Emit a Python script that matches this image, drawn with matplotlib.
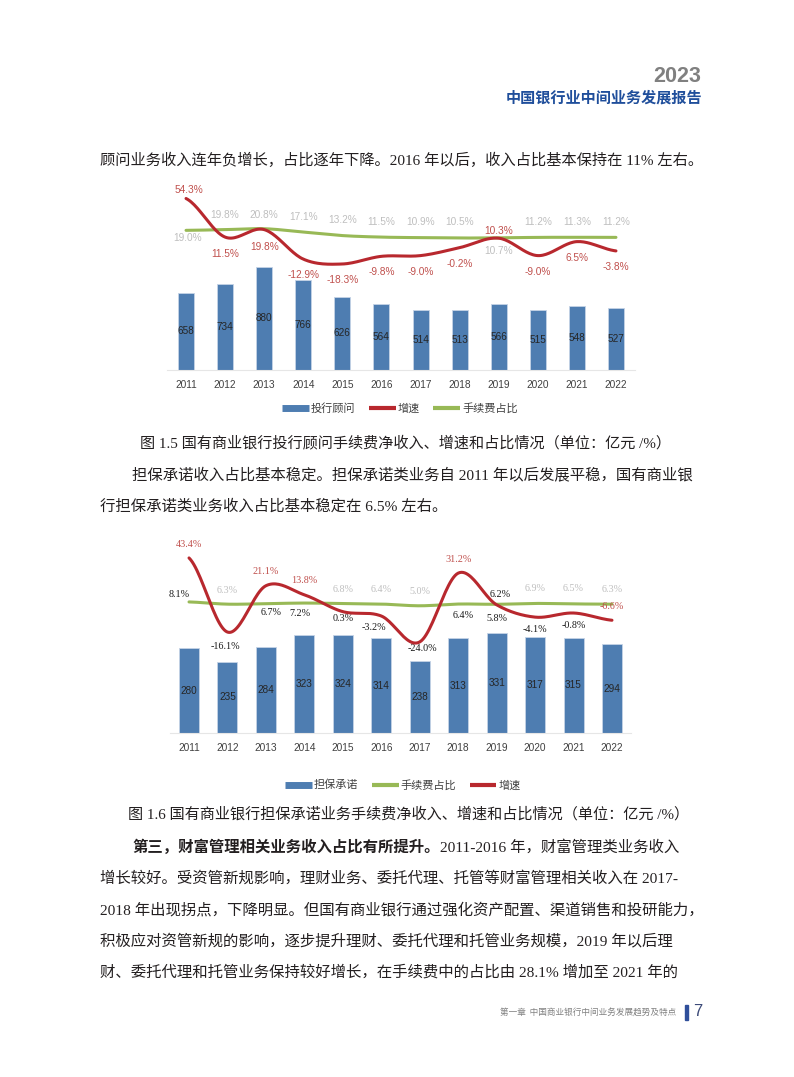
import numpy as np
import matplotlib
matplotlib.use("Agg")
import matplotlib.pyplot as plt
from matplotlib.lines import Line2D
from matplotlib.patches import Rectangle

# --- DATA ---
years = ['2011', '2012', '2013', '2014', '2015', '2016',
         '2017', '2018', '2019', '2020', '2021', '2022']

# 图 1.5 投行顾问
ib_income = [658, 734, 880, 766, 626, 564, 514, 513, 566, 515, 548, 527]
ib_growth = [54.3, 11.5, 19.8, -12.9, -18.3, -9.8, -9.0, -0.2, 10.3, -9.0, 6.5, -3.8]
ib_share = [19.0, 19.8, 20.8, 17.1, 13.2, 11.5, 10.9, 10.5, 10.7, 11.2, 11.3, 11.2]

# 图 1.6 担保承诺
gu_income = [280, 235, 284, 323, 324, 314, 238, 313, 331, 317, 315, 294]
gu_growth = [43.4, -16.1, 21.1, 13.8, 0.3, -3.2, -24.0, 31.2, 5.8, -4.1, -0.8, -6.6]
gu_share = [8.1, 6.3, 6.7, 7.2, 6.8, 6.4, 5.0, 6.4, 6.2, 6.9, 6.5, 6.3]
# ------------

W, H = 794, 1077
BLUE = '#4e7db1'
RED = '#b8282e'
GREEN = '#98b956'
RED_TXT = '#c0504d'
GRAY_TXT = '#bfbfbf'
DARK = '#262626'

plt.rcParams['font.family'] = ['Liberation Sans', 'Noto Sans CJK SC']
BODY = ['Liberation Serif', 'Noto Sans CJK SC']
CJK = ['Noto Sans CJK SC', 'DejaVu Sans']

fig = plt.figure(figsize=(W / 100, H / 100), dpi=100)


def px_axes(left, top, right, bottom):
    return fig.add_axes([left / W, 1 - bottom / H, (right - left) / W, (bottom - top) / H])


def ptext(x, y, s, size, ha='left', **kw):
    return fig.text(x / W, 1 - y / H, s, fontsize=size, ha=ha, va='center', **kw)


def smooth(vals, n=24):
    # catmull-rom, close to excel's smoothed line
    p = np.asarray(vals, float)
    P = np.concatenate([[p[0]], p, [p[-1]]])
    xs, ys = [], []
    for i in range(len(p) - 1):
        p0, p1, p2, p3 = P[i], P[i + 1], P[i + 2], P[i + 3]
        t = np.linspace(0, 1, n, endpoint=(i == len(p) - 2))
        y = 0.5 * (2 * p1 + (-p0 + p2) * t + (2 * p0 - 5 * p1 + 4 * p2 - p3) * t ** 2
                   + (-p0 + 3 * p1 - 3 * p2 + p3) * t ** 3)
        xs.append(i + t)
        ys.append(y)
    return np.concatenate(xs), np.concatenate(ys)


def combo(box, income, growth, share, bar_w, bar_top, line_lim,
          g_off, s_off, g_col, s_col, pct_font):
    ax = px_axes(*box)
    x = np.arange(len(years))
    ax.bar(x, income, width=bar_w, color=BLUE, edgecolor='#c5d3e6', linewidth=0.6, zorder=2)
    for i, v in enumerate(income):
        ax.text(i, v / 2, str(v), ha='center', va='center', fontsize=7.2, color=DARK, zorder=5)
    ax.set_xlim(-0.5, len(years) - 0.5)
    ax.set_ylim(0, bar_top)
    ax.set_xticks(x)
    ax.set_xticklabels(years, fontsize=7.3, color='#404040')
    ax.tick_params(axis='x', length=0, pad=7)
    ax.set_yticks([])
    for s in ['top', 'left', 'right']:
        ax.spines[s].set_visible(False)
    ax.spines['bottom'].set_color('#e6e6e6')
    ax.patch.set_alpha(0)

    ax2 = ax.twinx()
    ax2.set_ylim(*line_lim)
    ax2.axis('off')
    sx, sy = smooth(share)
    ax2.plot(sx, sy, color=GREEN, lw=2.2, solid_capstyle='round', zorder=3)
    gx, gy = smooth(growth)
    ax2.plot(gx, gy, color=RED, lw=2.2, solid_capstyle='round', zorder=4)
    for i in range(len(years)):
        dx, dy = g_off[i]
        ax2.annotate(f'{growth[i]:.1f}%', (i, growth[i]), xytext=(dx, -dy),
                     textcoords='offset pixels', ha='center', va='center',
                     fontsize=7.3, color=g_col[i], family=pct_font)
        dx, dy = s_off[i]
        ax2.annotate(f'{share[i]:.1f}%', (i, share[i]), xytext=(dx, -dy),
                     textcoords='offset pixels', ha='center', va='center',
                     fontsize=7.3, color=s_col[i], family=pct_font)
    return ax


def legend(items, cx, cy):
    handles = [Line2D([0], [0], color=c, lw=lw, solid_capstyle='butt') for _, c, lw in items]
    fig.legend(handles, [n for n, _, _ in items], loc='center', ncol=len(items),
               bbox_to_anchor=(cx / W, 1 - cy / H), frameon=False,
               prop={'family': CJK, 'size': 8}, handlelength=2.4, handletextpad=0.2,
               columnspacing=1.2, labelcolor='#404040')


# chart 1.5
ib_g_off = [(3, -8.5), (0, 17), (0, 17), (0, 16), (0, 16), (0, 16),
            (0, 16), (0, 16), (0, -7), (0, 16), (0, 16), (0, 16)]
ib_s_off = [(2, 8), (0, -15), (0, -14), (0, -15), (0, -15.5), (0, -15),
            (0, -15.5), (0, -16), (0, 13), (0, -15), (0, -15), (0, -15)]
combo((166.5, 180, 635.5, 370), ib_income, ib_growth, ib_share, 0.41, 1623,
      (-135.8, 74.8), ib_g_off, ib_s_off, [RED_TXT] * 12, [GRAY_TXT] * 12,
      ['Liberation Sans'])
legend([('投行顾问', BLUE, 5), ('增速', RED, 3), ('手续费占比', GREEN, 3)], 400, 408)

# chart 1.6
gu_g_off = [(0, -13), (-2, 14), (0, -14), (0, -14), (0, 7), (-7, 11),
            (3, 7), (0, -14), (0, 14), (0, 12), (0, 12), (0, -14)]
gu_s_off = [(-10, -7), (0, -14), (5, 9), (-4, 10), (0, -14.5), (0, -15),
            (0, -14), (5, 11), (4, -10), (0, -14.5), (0, -15), (0, -15)]
blk = '#1a1a1a'
gu_g_col = [RED_TXT, blk, RED_TXT, RED_TXT, blk, blk, blk, RED_TXT, blk, blk, blk, RED_TXT]
gu_s_col = [blk, GRAY_TXT, blk, blk, GRAY_TXT, GRAY_TXT, GRAY_TXT, blk, blk,
            GRAY_TXT, GRAY_TXT, GRAY_TXT]
combo((169.8, 540, 631.2, 733), gu_income, gu_growth, gu_share, 0.52, 638.8,
      (-97.1, 57.8), gu_g_off, gu_s_off, gu_g_col, gu_s_col, ['Liberation Serif'])
legend([('担保承诺', BLUE, 5), ('手续费占比', GREEN, 3), ('增速', RED, 3)], 403, 785)

# page header
ptext(701, 76, '2023', 15.5, ha='right', weight='bold', color='#808080',
      family=['Liberation Sans'])
ptext(702, 98, '中国银行业中间业务发展报告', 10.9, ha='right', weight='bold',
      color='#1f4e9b', family=CJK)

# body text
fs = 11.1
cs = 10.9
tc = '#231f20'
ptext(100, 160, '顾问业务收入连年负增长，占比逐年下降。2016 年以后，收入占比基本保持在 11% 左右。',
      11.0, family=BODY, color=tc)
ptext(140, 443, '图 1.5 国有商业银行投行顾问手续费净收入、增速和占比情况（单位：亿元 /%）',
      cs, family=BODY, color=tc)
ptext(132, 475, '担保承诺收入占比基本稳定。担保承诺类业务自 2011 年以后发展平稳，国有商业银',
      fs, family=BODY, color=tc)
ptext(100, 506, '行担保承诺类业务收入占比基本稳定在 6.5% 左右。', fs, family=BODY, color=tc)
ptext(128, 814, '图 1.6 国有商业银行担保承诺业务手续费净收入、增速和占比情况（单位：亿元 /%）',
      cs, family=BODY, color=tc)
t_bold = ptext(132, 847, '第三，财富管理相关业务收入占比有所提升。', fs, family=CJK,
               weight='bold', color=tc)
fig.canvas.draw()
x_end = t_bold.get_window_extent(fig.canvas.get_renderer()).x1
ptext(x_end + 1, 847, '2011-2016 年，财富管理类业务收入', fs, family=BODY, color=tc)
body_lines = [
    (878, '增长较好。受资管新规影响，理财业务、委托代理、托管等财富管理相关收入在 2017-'),
    (910, '2018 年出现拐点，下降明显。但国有商业银行通过强化资产配置、渠道销售和投研能力，'),
    (941, '积极应对资管新规的影响，逐步提升理财、委托代理和托管业务规模，2019 年以后理'),
    (972, '财、委托代理和托管业务保持较好增长，在手续费中的占比由 28.1% 增加至 2021 年的'),
]
for y, s in body_lines:
    ptext(100, y, s, fs, family=BODY, color=tc)

# footer
ptext(676, 1012, '第一章  中国商业银行中间业务发展趋势及特点', 6.2, ha='right',
      family=CJK, color='#808080')
fig.patches.append(Rectangle((685 / W, 1 - 1020 / H), 3 / W, 15 / H,
                             transform=fig.transFigure, color='#2f4f9a'))
ptext(693, 1012, '7', 12, family=['Liberation Sans'], color='#3c4a78')

fig.savefig('out.png', dpi=100)
